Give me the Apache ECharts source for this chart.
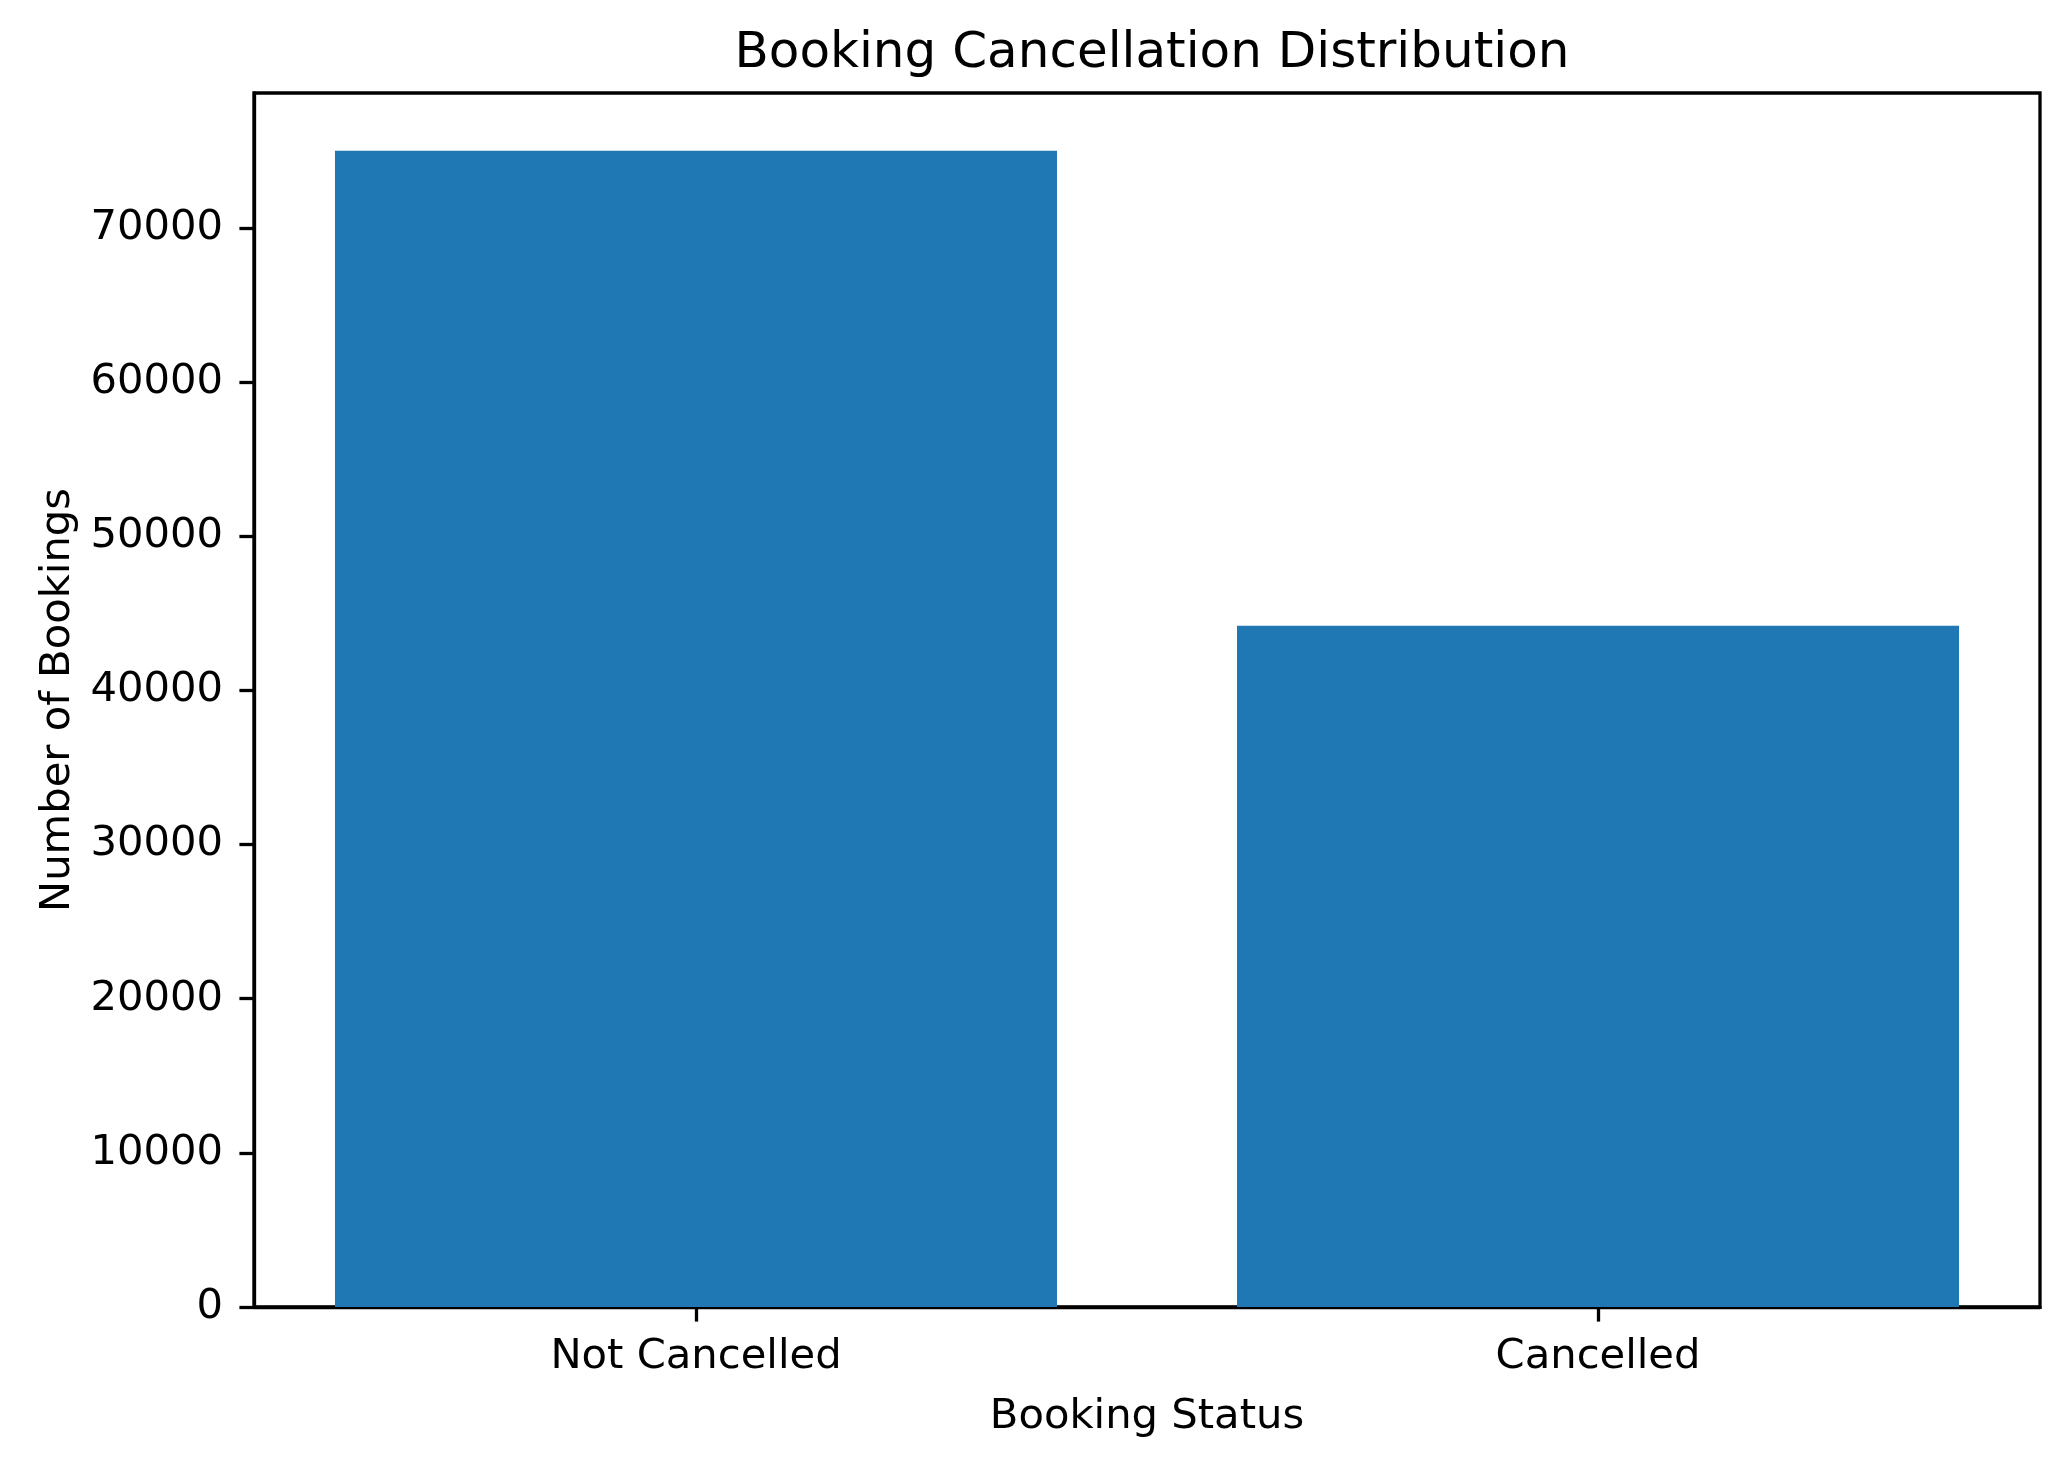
<!DOCTYPE html>
<html>

<head>
  <meta charset="utf-8">
  <title>Booking Cancellation Distribution</title>
  <style>
    html, body { margin: 0; padding: 0; background: #fff; }
  </style>
</head>

<body>
  <div id="chart_bookings" style="width: 2069px;height:1467px;"></div>
  <script src="https://cdn.jsdelivr.net/npm/echarts@6/dist/echarts.min.js"></script>
  <script>
    // data
    const statuses = ['Not Cancelled', 'Cancelled'];
    const bookings = [75010, 44200];
    const yTicks = [0, 10000, 20000, 30000, 40000, 50000, 60000, 70000];
    const xTicks = [0, 1];

    const font = 'DejaVu Sans';
    const chart_bookings = echarts.init(document.getElementById('chart_bookings'));

    const option = {
      animation: false,
      title: {
        text: 'Booking Cancellation Distribution',
        left: 1147,
        textAlign: 'center',
        top: 24,
        textStyle: { fontFamily: font, fontSize: 50, fontWeight: 'normal', color: '#000' }
      },
      grid: {
        left: 254, right: 29, top: 93, bottom: 160,
        show: true, borderColor: '#000', borderWidth: 3.3
      },
      xAxis: {
        type: 'value',
        // matplotlib puts 5% margin around bars of width 0.8
        min: -0.49,
        max: 1.49,
        name: 'Booking Status',
        nameLocation: 'middle',
        nameGap: 89,
        nameTextStyle: { fontFamily: font, fontSize: 41.7, color: '#000' },
        axisLine: { show: true, onZero: false, lineStyle: { color: '#000', width: 3.3 } },
        axisTick: { show: true, length: 14.6, customValues: xTicks, lineStyle: { color: '#000', width: 3.3 } },
        axisLabel: {
          customValues: xTicks,
          margin: 29,
          fontFamily: font, fontSize: 41.7, color: '#000',
          formatter: function (v) { return statuses[v]; }
        },
        splitLine: { show: false }
      },
      yAxis: {
        type: 'value',
        min: 0,
        max: 78760,
        name: 'Number of Bookings',
        nameLocation: 'middle',
        nameGap: 170,
        nameTextStyle: { fontFamily: font, fontSize: 41.7, color: '#000' },
        axisLine: { show: true, onZero: false, lineStyle: { color: '#000', width: 3.3 } },
        axisTick: { show: true, length: 14.6, customValues: yTicks, lineStyle: { color: '#000', width: 3.3 } },
        axisLabel: {
          customValues: yTicks,
          margin: 31,
          fontFamily: font, fontSize: 41.7, color: '#000',
          formatter: function (v) { return String(v); }
        },
        splitLine: { show: false }
      },
      series: [{
        type: 'bar',
        barWidth: 722,
        itemStyle: { color: '#1f77b4' },
        data: statuses.map(function (s, i) { return [i, bookings[i]]; })
      }]
    };

    chart_bookings.setOption(option, true);
  </script>
</body>

</html>
